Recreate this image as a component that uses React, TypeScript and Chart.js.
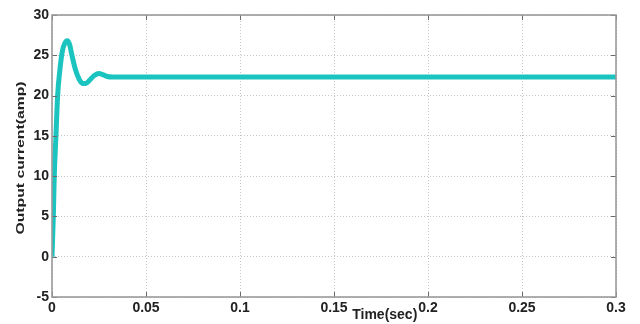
import React, { useEffect, useRef } from "react";
import { Chart, registerables } from "chart.js";

Chart.register(...registerables);

// Time (sec) and output current (amp)
const timeValues = [0, 0.0007, 0.0012, 0.0021, 0.003, 0.0042, 0.0055, 0.0068, 0.0082, 0.0094, 0.0106, 0.0125, 0.0145, 0.0165, 0.018, 0.02, 0.0225, 0.025, 0.027, 0.029, 0.032, 0.04, 0.1, 0.2, 0.3];
const currentValues = [0, 5, 10, 15, 20, 23.2, 25.5, 26.5, 26.8, 26.3, 25, 23.2, 22.0, 21.5, 21.5, 21.9, 22.5, 22.75, 22.6, 22.4, 22.3, 22.3, 22.3, 22.3, 22.3];

const xTickValues = [0, 0.05, 0.1, 0.15, 0.2, 0.25, 0.3];
const xTickLabels = ["0", "0.05", "0.1", "0.15", "0.2", "0.25", "0.3"];
const yTickValues = [-5, 0, 5, 10, 15, 20, 25, 30];
const yTickLabels = ["-5", "0", "5", "10", "15", "20", "25", "30"];

const xTitle = "Time(sec)";
const yTitle = "Output current(amp)";

const boxPlugin = {
  id: "matlabBox",
  afterDraw(chart: any) {
    const { ctx, chartArea } = chart;
    const { left, right, top, bottom } = chartArea;
    const xs = chart.scales.x;
    const ys = chart.scales.y;
    ctx.save();
    // inner ticks
    ctx.strokeStyle = "#6a6a6a";
    ctx.lineWidth = 1;
    ctx.beginPath();
    xTickValues.forEach((v) => {
      const px = Math.round(xs.getPixelForValue(v)) + 0.5;
      ctx.moveTo(px, bottom);
      ctx.lineTo(px, bottom - 5);
      ctx.moveTo(px, top);
      ctx.lineTo(px, top + 5);
    });
    yTickValues.forEach((v) => {
      const py = Math.round(ys.getPixelForValue(v)) + 0.5;
      ctx.moveTo(left, py);
      ctx.lineTo(left + 5, py);
      ctx.moveTo(right, py);
      ctx.lineTo(right - 5, py);
    });
    ctx.stroke();
    // box
    ctx.strokeStyle = "#9a9a9a";
    ctx.lineWidth = 1.6;
    ctx.strokeRect(left, top, right - left, bottom - top);

    // x title
    ctx.fillStyle = "#222";
    ctx.font = "bold 14px 'Liberation Sans', Arial, sans-serif";
    ctx.textAlign = "center";
    ctx.textBaseline = "middle";
    ctx.fillText(xTitle, left + (right - left) * 0.59, bottom + 18);

    // y title (rotated, stretched along its length)
    ctx.font = "bold 11px 'Liberation Sans', Arial, sans-serif";
    const w = ctx.measureText(yTitle).width;
    const stretch = 153 / w;
    ctx.translate(21, (top + bottom) / 2 + 2);
    ctx.rotate(-Math.PI / 2);
    ctx.scale(stretch, 1);
    ctx.fillText(yTitle, 0, 0);
    ctx.restore();
  },
};

export default function App() {
  const ref = useRef<HTMLCanvasElement | null>(null);
  useEffect(() => {
    if (!ref.current) return;
    const data = timeValues.map((t, i) => ({ x: t, y: currentValues[i] }));
    const tickFont = { family: "'Liberation Sans', Arial, sans-serif", size: 14, weight: "bold" as const };
    const chart = new Chart(ref.current, {
      type: "line",
      data: {
        datasets: [
          {
            data,
            borderColor: "rgb(28,196,192)",
            borderWidth: 5,
            pointRadius: 0,
            cubicInterpolationMode: "monotone",
            fill: false,
          },
        ],
      },
      options: {
        animation: false,
        responsive: false,
        maintainAspectRatio: false,
        layout: { padding: { top: 15, right: 24, left: 0, bottom: 0 } },
        plugins: { legend: { display: false }, tooltip: { enabled: false } },
        scales: {
          x: {
            type: "linear",
            min: 0,
            max: 0.3,
            afterBuildTicks: (s: any) => {
              s.ticks = xTickValues.map((v) => ({ value: v }));
            },
            afterFit: (s: any) => {
              s.height = 27;
            },
            ticks: {
              color: "#222",
              font: tickFont,
              padding: 3,
              maxRotation: 0,
              autoSkip: false,
              callback: (v: any) => {
                const i = xTickValues.findIndex((t) => Math.abs(t - Number(v)) < 1e-9);
                return i >= 0 ? xTickLabels[i] : "";
              },
            },
            grid: { color: "#c4c4c4", lineWidth: 1, drawTicks: false },
            border: { display: false, dash: [1, 2] },
          },
          y: {
            type: "linear",
            min: -5,
            max: 30,
            afterBuildTicks: (s: any) => {
              s.ticks = yTickValues.map((v) => ({ value: v }));
            },
            afterFit: (s: any) => {
              s.width = 52;
            },
            ticks: {
              color: "#222",
              font: tickFont,
              padding: 3,
              autoSkip: false,
              callback: (v: any) => {
                const i = yTickValues.findIndex((t) => Math.abs(t - Number(v)) < 1e-9);
                return i >= 0 ? yTickLabels[i] : "";
              },
            },
            grid: { color: "#c4c4c4", lineWidth: 1, drawTicks: false },
            border: { display: false, dash: [1, 2] },
          },
        },
      },
      plugins: [boxPlugin],
    });
    return () => chart.destroy();
  }, []);
  return (
    <div style={{ position: "fixed", left: 0, top: 0, width: 640, height: 324, background: "#fff" }}>
      <canvas ref={ref} width={640} height={324} />
    </div>
  );
}
